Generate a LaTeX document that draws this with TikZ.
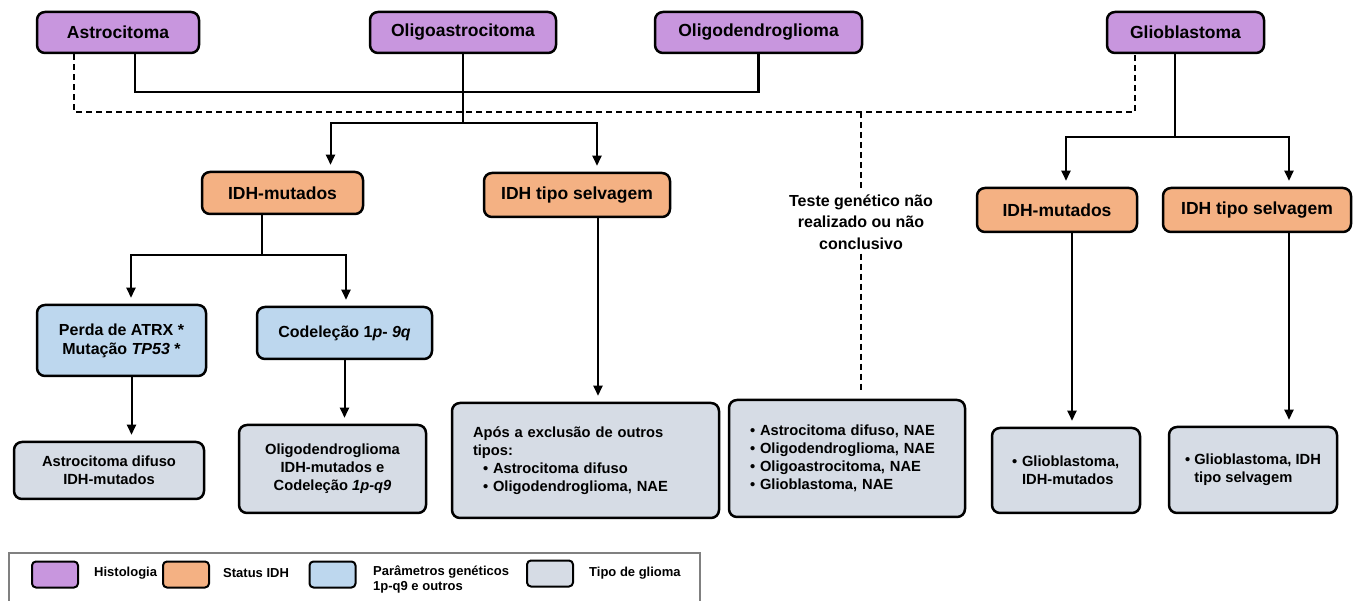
\documentclass[tikz,border=0pt]{standalone}
\usepackage{fontspec}
\setmainfont{Liberation Sans}
\usetikzlibrary{arrows.meta}

\definecolor{histocol}{RGB}{200,150,222}
\definecolor{idhcol}{RGB}{244,177,131}
\definecolor{genetcol}{RGB}{189,215,238}
\definecolor{tipocol}{RGB}{214,220,229}

\begin{document}
\begin{tikzpicture}[x=1pt,y=-1pt]
\tikzstyle{gbox}=[draw,line width=2.5pt,rounded corners=8pt,inner sep=2pt,align=center]
\tikzstyle{histo}=[gbox,fill=histocol,minimum height=41pt,font=\fontsize{17.5}{21}\selectfont\bfseries]
\tikzstyle{idh}=[gbox,fill=idhcol,minimum height=43pt,font=\fontsize{17.5}{21}\selectfont\bfseries]
\tikzstyle{genet}=[gbox,fill=genetcol,font=\fontsize{16}{19}\selectfont\bfseries]
\tikzstyle{tipo}=[gbox,fill=tipocol,font=\fontsize{14.7}{18}\selectfont\bfseries]
\tikzstyle{conn}=[line width=2.5pt]
\tikzstyle{arr}=[line width=2pt,-{Triangle[length=10pt,width=9pt]},shorten >=6pt]
\tikzstyle{dashline}=[line width=2pt,dash pattern=on 6pt off 4pt]
\tikzstyle{legbox}=[draw,line width=2pt,rounded corners=4pt,minimum width=46pt,minimum height=26pt]
\tikzstyle{legtext}=[anchor=west,align=left,inner sep=0pt,font=\fontsize{13}{15}\selectfont\bfseries]

\useasboundingbox (0,0) rectangle (1353,601);

% histologia
\node[histo,minimum width=162pt] (astro) at (118,32.5) {Astrocitoma};
\node[histo,minimum width=186pt] (oligoa) at (463,32.5) {Oligoastrocitoma};
\node[histo,minimum width=207pt] (oligod) at (758.5,32.5) {Oligodendroglioma};
\node[histo,minimum width=157pt] (glio) at (1185.5,32.5) {Glioblastoma};

% status IDH
\node[idh,minimum width=161pt,minimum height=42pt] (idhmut1) at (282.5,193) {IDH-mutados};
\node[idh,minimum width=186pt,minimum height=44pt] (idhwt1) at (577,195) {IDH tipo selvagem};
\node[idh,minimum width=160pt,minimum height=44pt] (idhmut2) at (1057,210) {IDH-mutados};
\node[idh,minimum width=188pt,minimum height=44pt] (idhwt2) at (1257,210) {IDH tipo selvagem};
\node[align=center,inner sep=4pt,font=\fontsize{16}{21.5}\selectfont\bfseries] (teste) at (861,222)
  {Teste genético não\\realizado ou não\\conclusivo};

% parametros geneticos
\node[genet,minimum width=169pt,minimum height=71pt] (perda) at (121.5,340.5) {Perda de ATRX *\\Mutação \textit{TP53} *};
\node[genet,minimum width=175pt,minimum height=52pt] (codel) at (344.5,333) {Codeleção 1\textit{p}- \textit{9q}};

% tipo de glioma
\node[tipo,minimum width=190pt,minimum height=57pt] (astrodif) at (109,470.5) {Astrocitoma difuso\\IDH-mutados};
\node[tipo,minimum width=187pt,minimum height=88pt] (oligodif) at (332.5,469) {Oligodendroglioma\\IDH-mutados e\\Codeleção \textit{1p-q9}};
\node[tipo,minimum width=267pt,minimum height=115pt,text width=225pt,align=left] (apos) at (585.5,460.5)
  {Após a exclusão de outros\\tipos:\\\hspace*{10pt}\textbullet\ Astrocitoma difuso\\\hspace*{10pt}\textbullet\ Oligodendroglioma, NAE};
\node[tipo,minimum width=236pt,minimum height=117pt,text width=194pt,align=left] (nae) at (847,458.5)
  {\textbullet\ Astrocitoma difuso, NAE\\\textbullet\ Oligodendroglioma, NAE\\\textbullet\ Oligoastrocitoma, NAE\\\textbullet\ Glioblastoma, NAE};
\node[tipo,minimum width=148pt,minimum height=85pt,text width=108pt,align=left] (gbmut) at (1066,470.5)
  {\textbullet\ Glioblastoma,\\\hphantom{\textbullet\ }IDH-mutados};
\node[tipo,minimum width=168pt,minimum height=86pt,align=left] (gbwt) at (1253,470)
  {\textbullet\ Glioblastoma, IDH\\\hphantom{\textbullet\ }tipo selvagem};

% ligacoes
\coordinate (solidbar) at (0,92);
\coordinate (dashbar) at (0,112);
\coordinate (split1) at (0,123);
\coordinate (split2) at (0,255);
\coordinate (split3) at (0,137);
\coordinate (a1) at ([xshift=17pt]astro.south);
\coordinate (a2) at ([xshift=-44pt]astro.south);
\coordinate (g1) at ([xshift=-50.5pt]glio.south);
\coordinate (g2) at ([xshift=-10.5pt]glio.south);
\coordinate (m1) at ([xshift=-20.5pt]idhmut1.south);
\coordinate (p1) at ([xshift=10pt]perda.south);
\coordinate (w1) at ([xshift=21pt]idhwt1.south);
\coordinate (m2) at ([xshift=15pt]idhmut2.south);
\coordinate (w2) at ([xshift=32pt]idhwt2.south);

\draw[conn] (a1) |- (solidbar -| oligod.south) -- (oligod.south);
\draw[conn] (oligoa.south) -- (oligoa.south |- split1);
\draw[arr] (oligoa.south |- split1) -| ([xshift=48pt]idhmut1.north);
\draw[arr] (oligoa.south |- split1) -| ([xshift=20pt]idhwt1.north);

\draw[dashline] (a2) |- (dashbar -| g1) -- (g1);
\draw[dashline] (teste.north |- dashbar) -- (teste.north);
\draw[dashline,shorten >=6pt] (teste.south) -- (teste.south |- nae.north);

\draw[conn] (g2) -- (g2 |- split3);
\draw[arr] (g2 |- split3) -| ([xshift=9pt]idhmut2.north);
\draw[arr] (g2 |- split3) -| ([xshift=32pt]idhwt2.north);

\draw[conn] (m1) -- (m1 |- split2);
\draw[arr] (m1 |- split2) -| ([xshift=9.5pt]perda.north);
\draw[arr] (m1 |- split2) -| ([xshift=1.5pt]codel.north);

\draw[arr] (p1) -- (p1 |- astrodif.north);
\draw[arr] (codel.south) -- (codel.south |- oligodif.north);
\draw[arr] (w1) -- (w1 |- apos.north);
\draw[arr] (m2) -- (m2 |- gbmut.north);
\draw[arr] (w2) -- (w2 |- gbwt.north);

% legenda
\draw[gray,line width=1.5pt] (9,603) |- (700,553) -- (700,603);
\node[legbox,fill=histocol] (leghisto) at (55,574.5) {};
\node[legtext] at (94,573) {Histologia};
\node[legbox,fill=idhcol] (legidh) at (186,574.5) {};
\node[legtext] at (223,573) {Status IDH};
\node[legbox,fill=genetcol] (leggenet) at (332.5,574.5) {};
\node[legtext] at (373,579) {Parâmetros genéticos\\1p-q9 e outros};
\node[legbox,fill=tipocol] (legtipo) at (550,573.5) {};
\node[legtext] at (589,573) {Tipo de glioma};
\end{tikzpicture}
\end{document}
